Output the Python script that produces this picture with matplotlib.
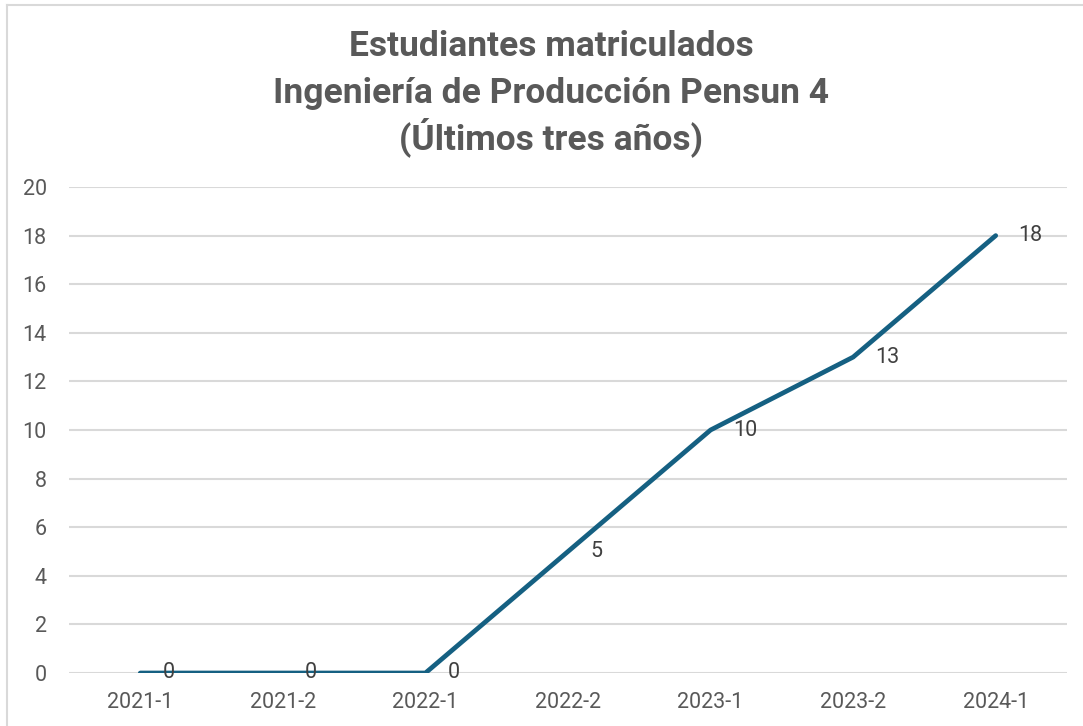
import matplotlib
matplotlib.use("Agg")
import matplotlib.pyplot as plt
from matplotlib.lines import Line2D

# data
periods = ["2021-1", "2021-2", "2022-1", "2022-2", "2023-1", "2023-2", "2024-1"]
students = [0, 0, 0, 5, 10, 13, 18]
y_ticks = [0, 2, 4, 6, 8, 10, 12, 14, 16, 18, 20]

title_lines = ["Estudiantes matriculados",
               "Ingeniería de Producción Pensun 4",
               "(Últimos tres años)"]
title_y_px = [47, 93, 137]  # line centres, pixels from the top

line_color = "#156082"
text_color = "#595959"
grid_color = "#d9d9d9"

fig = plt.figure(figsize=(10.83, 7.26), dpi=100)
fig.patch.set_facecolor("white")

# chart border (only top and left edges are visible in the crop)
fig.add_artist(Line2D([7 / 1083, 7 / 1083], [0, 1 - 5 / 726],
                      transform=fig.transFigure, color=grid_color, lw=1.5))
fig.add_artist(Line2D([7 / 1083, 1], [1 - 5 / 726, 1 - 5 / 726],
                      transform=fig.transFigure, color=grid_color, lw=1.5))

ax = fig.add_axes([69 / 1083, 53 / 726, 998 / 1083, 486 / 726])
x = list(range(len(periods)))
ax.plot(x, students, color=line_color, lw=3.4,
        solid_capstyle="round", solid_joinstyle="round", zorder=3)

for xi, v in zip(x, students):
    ax.annotate(str(v), (xi, v), xytext=(16, 0), textcoords="offset points",
                ha="left", va="center", fontsize=15.5, color="#404040",
                family="Roboto", zorder=4)

ax.set_xlim(-0.5, len(periods) - 0.5)
ax.set_ylim(0, 20)
ax.set_xticks(x)
ax.set_xticklabels(periods)
ax.set_yticks(y_ticks)
ax.tick_params(axis="both", length=0, labelsize=15.5, labelcolor=text_color)
ax.tick_params(axis="x", pad=14)
ax.tick_params(axis="y", pad=16)
for lab in ax.get_xticklabels() + ax.get_yticklabels():
    lab.set_family("Roboto")

ax.yaxis.grid(True, color=grid_color, lw=1.5)
ax.set_axisbelow(True)
for s in ax.spines.values():
    s.set_visible(False)

for line, ypx in zip(title_lines, title_y_px):
    fig.text(0.509, 1 - ypx / 726, line, ha="center", va="center",
             fontsize=25.5, fontweight="bold", color=text_color, family="Roboto")

fig.savefig("out.png", dpi=100, facecolor="white")
